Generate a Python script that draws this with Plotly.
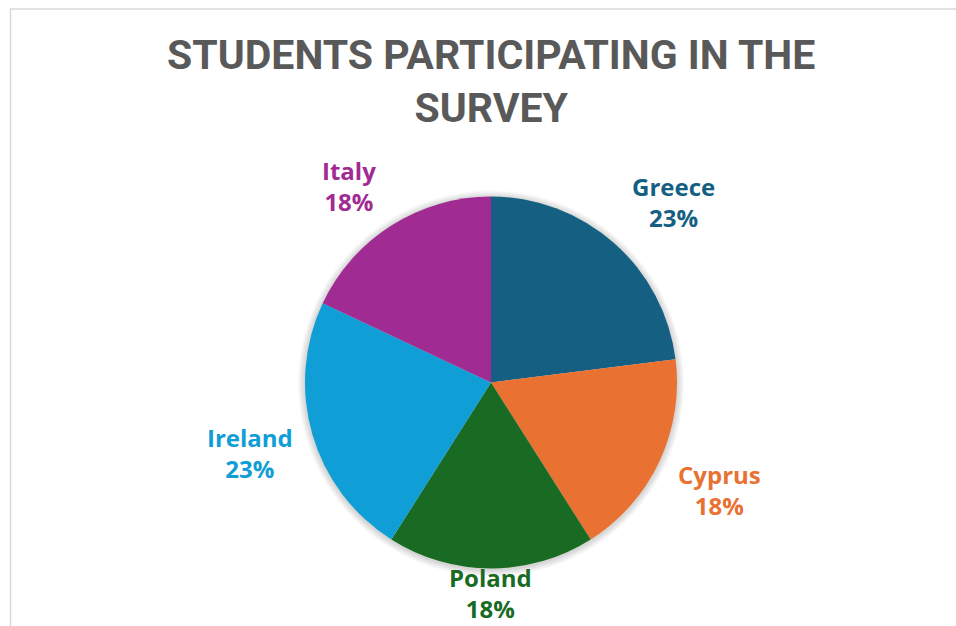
import math
import plotly.graph_objects as go

# Survey participation by country (share of students, %)
countries = ["Greece", "Cyprus", "Poland", "Ireland", "Italy"]
shares = [23, 18, 18, 23, 18]
colors = ["#156082", "#E97132", "#196B24", "#0F9ED5", "#A02B93"]

title_text = "STUDENTS PARTICIPATING IN THE<br>SURVEY"

# Canvas and pie geometry (pixels)
W, H = 956, 626
CX, CY, R = 491, 382.5, 186

# Radial distance of each data label from the pie centre, with a small angular nudge
label_dist = [257, 252, 210, 251, 243]
label_nudge = [4, 0, 0, 0, -3.5]

fig = go.Figure()

dom_x = [(CX - R) / W, (CX + R) / W]
dom_y = [1 - (CY + R) / H, 1 - (CY - R) / H]

fig.add_trace(go.Pie(
    labels=countries,
    values=shares,
    sort=False,
    direction="clockwise",
    rotation=0,
    marker=dict(colors=colors, line=dict(width=0)),
    textinfo="none",
    hoverinfo="label+percent",
    showlegend=False,
    domain=dict(x=dom_x, y=dom_y),
))

# Soft glow around the pie
shapes = []
for k in range(1, 8):
    rr = R + k
    shapes.append(dict(
        type="circle", xref="paper", yref="paper", layer="below",
        x0=(CX - rr) / W, x1=(CX + rr) / W,
        y0=1 - (CY + rr + 1) / H, y1=1 - (CY - rr + 1) / H,
        fillcolor="rgba(0,0,0,0.025)", line=dict(width=0),
    ))

# Chart-area frame
shapes.append(dict(
    type="rect", xref="paper", yref="paper", layer="below",
    x0=10.5 / W, x1=1.05, y0=-0.05, y1=1 - 9 / H,
    line=dict(color="#D9D9D9", width=1.5), fillcolor="rgba(0,0,0,0)",
))

# Data labels placed around the pie from each slice's mid angle
total = sum(shares)
annotations = []
cum = 0
for name, v, c, d, nd in zip(countries, shares, colors, label_dist, label_nudge):
    mid = (cum + v / 2) / total * 360 + nd
    cum += v
    a = math.radians(mid)
    px = CX + d * math.sin(a)
    py = CY - d * math.cos(a)
    pct = round(v / total * 100)
    annotations.append(dict(
        x=px / W, y=1 - py / H, xref="paper", yref="paper",
        xanchor="center", yanchor="middle", showarrow=False,
        text=f"{name}<br>{pct}%", align="center",
        font=dict(family="Open Sans", size=24, color=c, weight="bold"),
    ))

annotations.append(dict(
    x=490.5 / W, y=1 - 29 / H, xref="paper", yref="paper",
    xanchor="center", yanchor="top", showarrow=False,
    text=title_text, align="center",
    font=dict(family="Roboto", size=41, color="#595959", weight="bold"),
))

fig.update_layout(
    width=W, height=H,
    margin=dict(l=0, r=0, t=0, b=0),
    paper_bgcolor="white",
    plot_bgcolor="white",
    shapes=shapes,
    annotations=annotations,
)

fig.write_html("out.html")
